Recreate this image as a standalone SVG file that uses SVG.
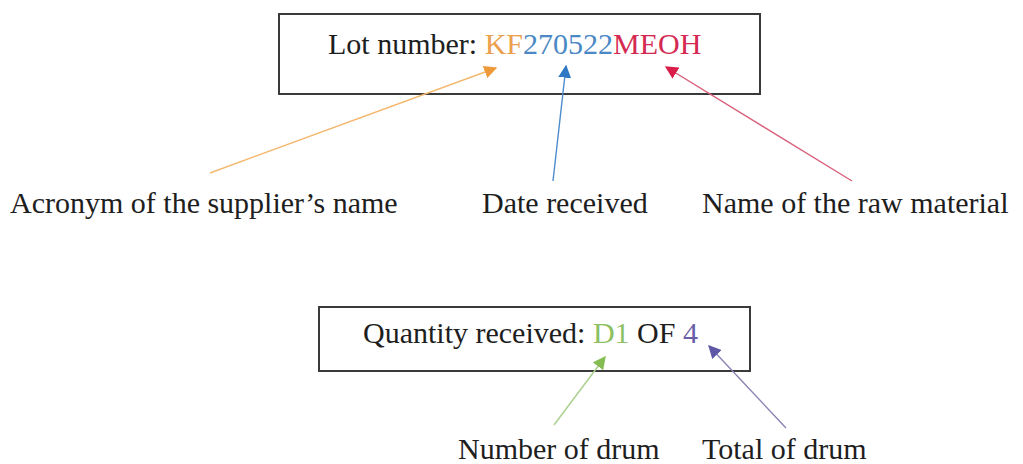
<svg xmlns="http://www.w3.org/2000/svg" width="1023" height="464" viewBox="0 0 1023 464">
  <style>
    .box { fill: #ffffff; stroke: #3a3a3a; stroke-width: 2; }
    .txt { font-family: "Liberation Serif", "Times New Roman", serif; font-size: 30px; fill: #1e1e1e; }
    .lead { fill: none; stroke-width: 1.4; }
  </style>
  <defs>
    <marker id="m-orange" viewBox="0 0 10 10" refX="9" refY="5" markerWidth="13" markerHeight="13" markerUnits="userSpaceOnUse" orient="auto">
      <path d="M0,0 L10,5 L0,10 Z" fill="#ee9a3a"/>
    </marker>
    <marker id="m-blue" viewBox="0 0 10 10" refX="9" refY="5" markerWidth="13" markerHeight="13" markerUnits="userSpaceOnUse" orient="auto">
      <path d="M0,0 L10,5 L0,10 Z" fill="#2f78c4"/>
    </marker>
    <marker id="m-red" viewBox="0 0 10 10" refX="9" refY="5" markerWidth="13" markerHeight="13" markerUnits="userSpaceOnUse" orient="auto">
      <path d="M0,0 L10,5 L0,10 Z" fill="#d81e48"/>
    </marker>
    <marker id="m-green" viewBox="0 0 10 10" refX="9" refY="5" markerWidth="13" markerHeight="13" markerUnits="userSpaceOnUse" orient="auto">
      <path d="M0,0 L10,5 L0,10 Z" fill="#86bd52"/>
    </marker>
    <marker id="m-purple" viewBox="0 0 10 10" refX="9" refY="5" markerWidth="13" markerHeight="13" markerUnits="userSpaceOnUse" orient="auto">
      <path d="M0,0 L10,5 L0,10 Z" fill="#5e58a6"/>
    </marker>
  </defs>
  <rect width="1023" height="464" fill="#ffffff"/>

  <!-- lot number box -->
  <g id="lot-number">
    <rect class="box" x="279" y="14" width="481" height="80"/>
    <text class="txt" x="328" y="54">Lot number: <tspan fill="#eca04e">KF</tspan><tspan fill="#4a88c6">270522</tspan><tspan fill="#d42a52">MEOH</tspan></text>
  </g>

  <!-- quantity box -->
  <g id="quantity">
    <rect class="box" x="319" y="307" width="431" height="64"/>
    <text class="txt" x="363" y="343">Quantity received: <tspan fill="#8cc063">D1</tspan> OF <tspan fill="#6a5ea8">4</tspan></text>
  </g>

  <!-- labels -->
  <g id="label-supplier"><text class="txt" x="10" y="213">Acronym of the supplier’s name</text></g>
  <g id="label-date"><text class="txt" x="482" y="213">Date received</text></g>
  <g id="label-material"><text class="txt" x="702" y="213">Name of the raw material</text></g>
  <g id="label-drum-number"><text class="txt" x="458" y="459">Number of drum</text></g>
  <g id="label-drum-total"><text class="txt" x="702" y="459">Total of drum</text></g>

  <!-- connectors -->
  <g id="connectors">
    <line class="lead" x1="210" y1="173" x2="496" y2="68" stroke="#f4b870" marker-end="url(#m-orange)"/>
    <line class="lead" x1="553" y1="181" x2="566" y2="66" stroke="#4d8ccc" marker-end="url(#m-blue)"/>
    <line class="lead" x1="852" y1="181" x2="666" y2="67" stroke="#d8607c" marker-end="url(#m-red)"/>
    <line class="lead" x1="554" y1="425" x2="605" y2="357" stroke="#a9d08c" marker-end="url(#m-green)"/>
    <line class="lead" x1="786" y1="428" x2="709" y2="346" stroke="#8a84b2" marker-end="url(#m-purple)"/>
  </g>
</svg>
